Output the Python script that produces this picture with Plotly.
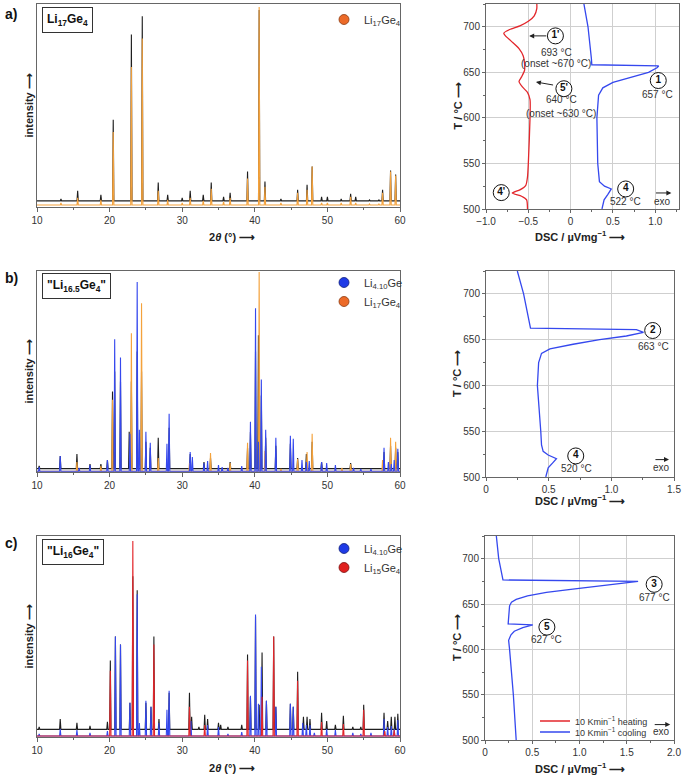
import plotly.graph_objects as go

# ------------------------------------------------------------------
# XRD data (2theta positions in degrees, normalised intensities)
# ------------------------------------------------------------------
two_theta_ticks = [10, 20, 30, 40, 50, 60]

# panel a: measured Li17Ge4 and calculated Li17Ge4
a_obs_pos = [13.3, 15.6, 18.8, 20.5, 23.0, 24.5, 26.7, 28.0, 30.0, 31.1, 32.9, 34.0, 35.7, 36.6,
             39.0, 40.6, 41.4, 43.6, 45.9, 47.2, 47.9, 49.2, 50.0, 51.9, 53.2, 53.9, 55.8, 57.1,
             57.6, 58.7, 59.4]
a_obs_int = [0.04, 0.08, 0.06, 0.43, 0.85, 0.94, 0.12, 0.06, 0.045, 0.08, 0.06, 0.12, 0.05, 0.07,
             0.175, 0.97, 0.125, 0.04, 0.085, 0.11, 0.2, 0.05, 0.05, 0.04, 0.065, 0.05, 0.035, 0.035,
             0.085, 0.18, 0.16]
a_li17_pos = a_obs_pos
a_li17_int = [0.02, 0.045, 0.035, 0.37, 0.69, 0.83, 0.08, 0.035, 0.02, 0.045, 0.03, 0.09, 0.025, 0.045,
              0.14, 0.985, 0.1, 0.02, 0.07, 0.085, 0.2, 0.02, 0.02, 0.02, 0.05, 0.02, 0.015, 0.015,
              0.07, 0.175, 0.155]

# panel b: measured "Li16.5Ge4", calculated Li4.10Ge and Li17Ge4
b_obs_pos = [10.3, 13.2, 15.5, 17.3, 18.8, 19.7, 20.4, 20.7, 21.5, 22.7, 23.0, 23.8, 24.4, 25.0,
             25.6, 26.7, 28.2, 31.1, 33.0, 33.9, 36.6, 39.0, 39.4, 40.1, 40.5, 40.9, 41.5, 42.9,
             44.9, 45.9, 47.1, 47.9, 49.2, 53.2, 57.8, 58.7, 59.4, 59.7]
b_obs_int = [0.03, 0.08, 0.09, 0.04, 0.04, 0.06, 0.4, 0.5, 0.45, 0.2, 0.45, 0.6, 0.5, 0.15,
             0.12, 0.17, 0.22, 0.09, 0.05, 0.07, 0.05, 0.12, 0.2, 0.6, 0.68, 0.38, 0.17, 0.13,
             0.14, 0.07, 0.09, 0.15, 0.05, 0.045, 0.1, 0.13, 0.12, 0.1]
b_li410_pos = [10.3, 13.2, 15.8, 17.3, 19.7, 20.7, 21.5, 22.8, 23.8, 24.1, 25.0, 25.6, 27.9, 28.2,
               31.1, 31.4, 33.0, 33.5, 35.0, 35.5, 36.3, 38.2, 39.4, 40.1, 40.5, 40.9, 41.5, 42.9,
               44.9, 45.3, 46.5, 47.1, 47.5, 49.2, 49.9, 51.1, 53.6, 54.6, 56.0, 57.8, 58.4, 58.8,
               59.2, 59.7]
b_li410_int = [0.025, 0.08, 0.02, 0.035, 0.06, 0.66, 0.57, 0.19, 0.945, 0.21, 0.2, 0.145, 0.14, 0.29,
               0.1, 0.075, 0.045, 0.055, 0.035, 0.025, 0.02, 0.03, 0.25, 0.815, 0.15, 0.46, 0.21, 0.17,
               0.18, 0.165, 0.06, 0.05, 0.055, 0.05, 0.045, 0.035, 0.02, 0.015, 0.015, 0.12, 0.05, 0.04,
               0.06, 0.115]
b_li17_pos = [15.5, 18.8, 20.4, 23.0, 24.4, 26.7, 31.0, 33.9, 36.6, 39.0, 40.6, 41.4, 43.6, 45.9,
              47.2, 47.9, 49.2, 52.0, 53.2, 57.6, 58.7, 59.4]
b_li17_int = [0.05, 0.03, 0.36, 0.69, 0.84, 0.07, 0.045, 0.095, 0.045, 0.145, 0.995, 0.105, 0.015, 0.065,
              0.1, 0.19, 0.02, 0.02, 0.04, 0.06, 0.17, 0.15]

# panel c: measured "Li16Ge4", calculated Li4.10Ge and Li15Ge4
c_obs_pos = [10.3, 13.2, 15.5, 17.3, 19.7, 20.1, 20.8, 21.5, 22.8, 23.2, 23.8, 25.0, 25.7, 26.1,
             26.8, 28.2, 31.0, 31.3, 32.3, 33.1, 33.5, 35.0, 35.3, 36.3, 38.2, 39.0, 39.4, 40.1,
             40.6, 41.0, 41.6, 42.6, 42.9, 44.9, 45.3, 45.9, 46.7, 47.2, 47.6, 49.2, 49.9, 51.1,
             52.2, 53.5, 54.6, 55.0, 57.8, 58.3, 58.8, 59.3, 59.7]
c_obs_int = [0.05, 0.09, 0.07, 0.055, 0.075, 0.38, 0.5, 0.46, 0.17, 0.8, 0.73, 0.17, 0.15, 0.5,
             0.09, 0.22, 0.22, 0.1, 0.05, 0.11, 0.09, 0.07, 0.06, 0.05, 0.06, 0.41, 0.2, 0.6,
             0.16, 0.42, 0.18, 0.5, 0.15, 0.165, 0.15, 0.325, 0.1, 0.1, 0.09, 0.12, 0.08, 0.06,
             0.105, 0.05, 0.05, 0.16, 0.12, 0.08, 0.1, 0.1, 0.115]
c_li410_pos = [10.3, 13.2, 15.5, 17.3, 19.7, 20.8, 21.5, 22.8, 23.8, 24.1, 25.0, 25.7, 26.8, 27.9,
               28.2, 31.2, 33.5, 35.0, 36.3, 38.2, 39.4, 40.1, 40.5, 40.9, 41.6, 42.9, 44.9, 45.3,
               46.6, 47.1, 47.6, 48.2, 49.9, 51.1, 53.5, 54.6, 56.0, 57.8, 58.3, 58.8, 59.2, 59.7]
c_li410_int = [0.015, 0.04, 0.035, 0.02, 0.03, 0.5, 0.46, 0.17, 0.71, 0.07, 0.18, 0.15, 0.07, 0.135,
               0.23, 0.08, 0.06, 0.05, 0.015, 0.025, 0.205, 0.61, 0.165, 0.35, 0.18, 0.15, 0.165, 0.15,
               0.07, 0.06, 0.06, 0.02, 0.04, 0.035, 0.02, 0.015, 0.02, 0.09, 0.05, 0.055, 0.04, 0.085]
c_li15_pos = [20.1, 23.2, 26.1, 31.0, 33.1, 39.0, 41.0, 42.6, 45.9, 49.2, 52.2, 55.0, 57.9, 59.2]
c_li15_int = [0.33, 0.975, 0.46, 0.15, 0.06, 0.38, 0.2, 0.5, 0.28, 0.075, 0.065, 0.135, 0.03, 0.035]

# vertical stacking offsets of measured / calculated patterns
a_offsets = (0.03, 0.01)
b_offsets = (0.017, 0.004)
c_offsets = (0.038, 0.005)

# ------------------------------------------------------------------
# DSC data (signal in uV/mg, temperature in degC)
# ------------------------------------------------------------------
a_heat_T = [500, 510, 514, 517.5, 521, 526, 535, 550, 600, 620, 628, 634, 640, 645, 652, 660, 668, 676,
            684, 690, 693, 697, 701, 706, 712, 720, 726]
a_heat_dsc = [-0.51, -0.52, -0.58, -0.69, -0.6, -0.53, -0.51, -0.5, -0.48, -0.48, -0.51, -0.57, -0.61,
              -0.58, -0.545, -0.545, -0.56, -0.61, -0.7, -0.77, -0.79, -0.72, -0.6, -0.5, -0.43, -0.4, -0.4]
a_cool_T = [500, 510, 516, 520, 522, 525, 530, 550, 600, 625, 633, 639, 642, 646, 650, 655, 657, 658.3,
            665, 700, 726]
a_cool_dsc = [0.37, 0.395, 0.44, 0.47, 0.48, 0.40, 0.34, 0.32, 0.31, 0.33, 0.38, 0.5, 0.62, 0.78, 0.92,
              1.02, 1.04, 0.25, 0.245, 0.205, 0.155]

b_cool_T = [500, 510, 516, 520, 524, 528, 535, 550, 600, 625, 635, 640, 645, 650, 654, 658, 661, 662.5,
            700, 725]
b_cool_dsc = [0.477, 0.496, 0.536, 0.562, 0.496, 0.456, 0.443, 0.437, 0.41, 0.42, 0.443, 0.51, 0.695,
              0.907, 1.12, 1.257, 1.2, 0.355, 0.30, 0.25]

c_cool_T = [500, 550, 600, 610, 616, 620, 624, 627, 628, 640, 648, 652, 655, 659, 662.8, 666.5, 670, 675,
            676.5, 700, 725]
c_cool_dsc = [0.33, 0.30, 0.26, 0.25, 0.275, 0.31, 0.40, 0.506, 0.245, 0.25, 0.26, 0.28, 0.33, 0.45, 0.65,
              0.93, 1.21, 1.62, 0.19, 0.145, 0.12]

# ------------------------------------------------------------------
W, H = 685, 777
FONT = "Liberation Sans, Arial, sans-serif"
BLACK = "#1e1e1e"
ORANGE = "#F4A23C"
BLUE = "#3548EE"
RED = "#E3262B"
FRAME = "#666666"
GRID = "#cfcfcf"


def px(x):
    return x / W


def py(y):
    return 1 - y / H


def pattern(pos, inten, base, hw=0.09):
    pairs = sorted(zip(pos, inten))
    xs, ys = [10], [base]
    for p, t in pairs:
        xs += [p - hw, p, p + hw]
        ys += [base, t, base]
    xs.append(60)
    ys.append(base)
    return xs, ys


fig = go.Figure()


def add_pattern(pos, inten, base, color, ax):
    xs, ys = pattern(pos, inten, base)
    fig.add_trace(go.Scatter(x=xs, y=ys, mode="lines", line=dict(color=color, width=1.1),
                             showlegend=False, hoverinfo="skip", xaxis="x" + ax, yaxis="y" + ax))


# panel a
add_pattern(a_obs_pos, a_obs_int, a_offsets[0], BLACK, "")
add_pattern(a_li17_pos, a_li17_int, a_offsets[1], ORANGE, "")
# panel b
add_pattern(b_obs_pos, b_obs_int, b_offsets[0], BLACK, "3")
add_pattern(b_li17_pos, b_li17_int, b_offsets[1], ORANGE, "3")
add_pattern(b_li410_pos, b_li410_int, b_offsets[1], BLUE, "3")
# panel c
add_pattern(c_obs_pos, c_obs_int, c_offsets[0], BLACK, "5")
add_pattern(c_li410_pos, c_li410_int, c_offsets[1], BLUE, "5")
add_pattern(c_li15_pos, c_li15_int, c_offsets[1], RED, "5")

# DSC curves
fig.add_trace(go.Scatter(x=a_heat_dsc, y=a_heat_T, mode="lines",
                         line=dict(color=RED, width=1.3, shape="spline", smoothing=0.6),
                         showlegend=False, xaxis="x2", yaxis="y2"))
fig.add_trace(go.Scatter(x=a_cool_dsc, y=a_cool_T, mode="lines", line=dict(color=BLUE, width=1.3),
                         showlegend=False, xaxis="x2", yaxis="y2"))
fig.add_trace(go.Scatter(x=b_cool_dsc, y=b_cool_T, mode="lines", line=dict(color=BLUE, width=1.3),
                         showlegend=False, xaxis="x4", yaxis="y4"))
fig.add_trace(go.Scatter(x=c_cool_dsc, y=c_cool_T, mode="lines", line=dict(color=BLUE, width=1.3),
                         showlegend=False, xaxis="x6", yaxis="y6"))


# legend entries (XRD phases)
def leg_marker(name, color, edge, legend, ax):
    fig.add_trace(go.Scatter(x=[None], y=[None], mode="markers", name=name,
                             marker=dict(color=color, size=10, line=dict(color=edge, width=0.8)),
                             legend=legend, xaxis="x" + ax, yaxis="y" + ax))


LI17 = "Li<sub>17</sub>Ge<sub>4</sub>"
LI410 = "Li<sub>4.10</sub>Ge"
LI15 = "Li<sub>15</sub>Ge<sub>4</sub>"
leg_marker(LI17, "#EC6A28", "#8a3a10", "legend", "")
leg_marker(LI410, "#1F3BE6", "#10207a", "legend2", "3")
leg_marker(LI17, "#EC6A28", "#8a3a10", "legend2", "3")
leg_marker(LI410, "#1F3BE6", "#10207a", "legend3", "5")
leg_marker(LI15, "#E0201E", "#7a1010", "legend3", "5")
fig.add_trace(go.Scatter(x=[None], y=[None], mode="lines", name="10 Kmin<sup>−1</sup> heating",
                         line=dict(color=RED, width=1.3), legend="legend4", xaxis="x6", yaxis="y6"))
fig.add_trace(go.Scatter(x=[None], y=[None], mode="lines", name="10 Kmin<sup>−1</sup> cooling",
                         line=dict(color=BLUE, width=1.3), legend="legend5", xaxis="x6", yaxis="y6"))


# circled event labels on DSC curves
def circ(labels, xs, ys, ax):
    fig.add_trace(go.Scatter(x=xs, y=ys, mode="markers+text", text=["<b>%s</b>" % l for l in labels],
                             textposition="middle center",
                             textfont=dict(family=FONT, size=10, color="#111"),
                             marker=dict(symbol="circle", size=16, color="white",
                                         line=dict(color="#111", width=1)),
                             showlegend=False, hoverinfo="skip", xaxis="x" + ax, yaxis="y" + ax))


circ(["1'", "5'", "4'", "1", "4"], [-0.18, -0.08, -0.82, 1.035, 0.65], [690, 632, 518, 641, 522], "2")
circ(["2", "4"], [1.33, 0.716], [660, 523], "4")
circ(["3", "5"], [1.79, 0.655], [671.7, 624.5], "6")

# ------------------------------------------------------------------
xrd_axis = dict(range=[10, 60], tickvals=two_theta_ticks, showline=True, mirror=True, linecolor=FRAME,
                linewidth=1, ticks="outside", ticklen=4, tickcolor=FRAME, showgrid=False, zeroline=False,
                automargin=False, tickfont=dict(family=FONT, size=10, color="#333"),
                minor=dict(dtick=5, ticks="outside", ticklen=2, tickcolor=FRAME))
xrd_yaxis = dict(range=[0, 1.0], showticklabels=False, showline=True, mirror=True, linecolor=FRAME,
                 linewidth=1, showgrid=False, zeroline=False, ticks="", automargin=False)


def dsc_x(rng, vals, texts):
    return dict(range=rng, tickvals=vals, ticktext=texts, showline=True, mirror=True, linecolor=FRAME,
                linewidth=1, showgrid=True, gridcolor=GRID, gridwidth=1, zeroline=False,
                ticks="outside", ticklen=3, tickcolor=FRAME, automargin=False,
                tickfont=dict(family=FONT, size=10, color="#333"),
                minor=dict(dtick=0.25, ticks="outside", ticklen=2, tickcolor=FRAME, showgrid=False))


dsc_y = dict(range=[500, 725], tickvals=[500, 550, 600, 650, 700], showline=True, mirror=True,
             linecolor=FRAME, linewidth=1, showgrid=True, gridcolor=GRID, gridwidth=1, zeroline=False,
             ticks="outside", ticklen=3, tickcolor=FRAME, automargin=False,
             tickfont=dict(family=FONT, size=10, color="#333"),
             minor=dict(dtick=25, ticks="outside", ticklen=2, tickcolor=FRAME, showgrid=False))

left_dom = [px(37), px(400)]
fig.update_layout(
    width=W, height=H, margin=dict(l=0, r=0, t=0, b=0, pad=0), autosize=False,
    paper_bgcolor="white", plot_bgcolor="white",
    font=dict(family=FONT, size=10, color="#222"),
    xaxis=dict(domain=left_dom, anchor="y", **xrd_axis),
    yaxis=dict(domain=[py(207), py(4)], anchor="x", **xrd_yaxis),
    xaxis3=dict(domain=left_dom, anchor="y3", **xrd_axis),
    yaxis3=dict(domain=[py(472), py(271)], anchor="x3", **xrd_yaxis),
    xaxis5=dict(domain=left_dom, anchor="y5", **xrd_axis),
    yaxis5=dict(domain=[py(737), py(536)], anchor="x5", **xrd_yaxis),
    xaxis2=dict(domain=[px(486), px(679)], anchor="y2",
                **dsc_x([-1.0, 1.28], [-1, -0.5, 0, 0.5, 1.0], ["−1.0", "−0.5", "0", "0.5", "1.0"])),
    yaxis2=dict(domain=[py(209), py(4)], anchor="x2", **dsc_y),
    xaxis4=dict(domain=[px(486), px(674)], anchor="y4",
                **dsc_x([0, 1.5], [0, 0.5, 1.0, 1.5], ["0", "0.5", "1.0", "1.5"])),
    yaxis4=dict(domain=[py(477), py(271)], anchor="x4", **dsc_y),
    xaxis6=dict(domain=[px(485), px(674)], anchor="y6",
                **dsc_x([0, 2.0], [0, 0.5, 1.0, 1.5, 2.0], ["0", "0.5", "1.0", "1.5", "2.0"])),
    yaxis6=dict(domain=[py(740), py(536)], anchor="x6", **dsc_y),
)

leg_common = dict(bgcolor="rgba(0,0,0,0)", borderwidth=0, xanchor="left", yanchor="top",
                  font=dict(family=FONT, size=11, color="#333"), itemwidth=30, tracegroupgap=0)
leg_small = dict(bgcolor="rgba(0,0,0,0)", borderwidth=0, xanchor="left", yanchor="middle",
                 font=dict(family=FONT, size=9, color="#333"), itemwidth=30)
fig.update_layout(
    legend=dict(x=px(324), y=py(5), **leg_common),
    legend2=dict(x=px(324), y=py(268), **leg_common),
    legend3=dict(x=px(324), y=py(534), **leg_common),
    legend4=dict(x=px(535), y=py(721), **leg_small),
    legend5=dict(x=px(535), y=py(732), **leg_small),
)

# ------------------------------------------------------------------
anns = []
bold = dict(family=FONT, size=11, color="#222")


def note(x, y, text, xref="paper", yref="paper", **kw):
    d = dict(x=x, y=y, xref=xref, yref=yref, text=text, showarrow=False,
             xanchor="center", yanchor="middle")
    d.update(kw)
    anns.append(d)


# panel letters
letter = dict(family=FONT, size=14, color="#111")
note(px(3), py(4), "<b>a)</b>", font=letter, xanchor="left", yanchor="top")
note(px(3), py(268), "<b>b)</b>", font=letter, xanchor="left", yanchor="top")
note(px(3), py(533), "<b>c)</b>", font=letter, xanchor="left", yanchor="top")

# sample boxes
box = dict(bordercolor="#333", borderwidth=1, borderpad=4, bgcolor="white",
           font=dict(family=FONT, size=12, color="#111"), xanchor="left", yanchor="top")
note(px(42), py(7), "<b>Li<sub>17</sub>Ge<sub>4</sub></b>", **box)
note(px(42), py(273), "<b>\"Li<sub>16.5</sub>Ge<sub>4</sub>\"</b>", **box)
note(px(42), py(539), "<b>\"Li<sub>16</sub>Ge<sub>4</sub>\"</b>", **box)

# axis titles
for yc in [(4 + 207) / 2, (271 + 472) / 2, (536 + 737) / 2]:
    note(px(28), py(yc), "<b>intensity ⟶</b>", textangle=-90, font=bold)
for yc in [(4 + 209) / 2, (271 + 477) / 2, (536 + 740) / 2]:
    note(px(457), py(yc), "<b>T / °C ⟶</b>", textangle=-90, font=bold)
note(px(232), py(237), "<b>2<i>θ</i> (°) ⟶</b>", font=bold)
note(px(232), py(768), "<b>2<i>θ</i> (°) ⟶</b>", font=bold)
for yy in [236, 500, 768]:
    note(px(580), py(yy), "<b>DSC / µVmg<sup>−1</sup> ⟶</b>", font=bold)

small = dict(family=FONT, size=10, color="#333")
# panel a DSC notes
note(-0.17, 672, "693 °C", "x2", "y2", font=small)
note(-0.17, 660, "(onset ~670 °C)", "x2", "y2", font=small)
note(-0.11, 620, "640 °C", "x2", "y2", font=small)
note(-0.11, 605, "(onset ~630 °C)", "x2", "y2", font=small)
note(1.03, 626, "657 °C", "x2", "y2", font=small)
note(0.65, 508, "522 °C", "x2", "y2", font=small)
note(1.09, 508, "exo", "x2", "y2", font=small)
# panel b DSC notes
note(1.34, 643, "663 °C", "x4", "y4", font=small)
note(0.72, 509, "520 °C", "x4", "y4", font=small)
note(1.40, 510, "exo", "x4", "y4", font=small)
# panel c DSC notes
note(1.79, 657.7, "677 °C", "x6", "y6", font=small)
note(0.655, 610.5, "627 °C", "x6", "y6", font=small)
note(1.87, 509, "exo", "x6", "y6", font=small)


# arrows
def arrow(x, y, ax, ay, xr, yr):
    anns.append(dict(x=x, y=y, ax=ax, ay=ay, xref=xr, yref=yr, axref=xr, ayref=yr, text="",
                     showarrow=True, arrowhead=2, arrowsize=1, arrowwidth=1, arrowcolor="#222"))


arrow(-0.49, 690, -0.27, 690, "x2", "y2")
arrow(-0.41, 639.4, -0.19, 635.8, "x2", "y2")
arrow(1.19, 517.6, 0.99, 517.6, "x2", "y2")
arrow(1.46, 519, 1.34, 519, "x4", "y4")
arrow(1.96, 517, 1.78, 517, "x6", "y6")

fig.update_layout(annotations=anns)
fig.write_html("out.html", config={"displayModeBar": False},
               post_script="document.body.style.margin='0px';")
